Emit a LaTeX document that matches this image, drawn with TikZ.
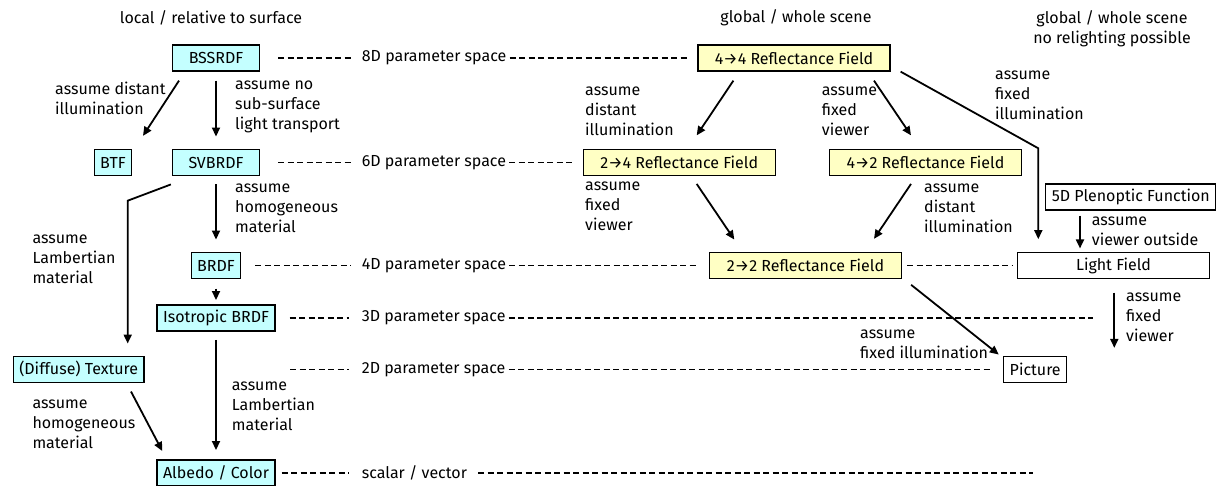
\documentclass[tikz,border=0pt]{standalone}
\usepackage{fontspec}
\setmainfont{Fira Sans}
\usetikzlibrary{arrows.meta}

\definecolor{boxcyan}{RGB}{196,255,255}
\definecolor{boxyellow}{RGB}{255,255,196}

\tikzset{
	modelbox/.style={draw, line width=1.3pt, minimum height=26pt, inner xsep=6pt, inner ysep=0pt},
	localbox/.style={modelbox, fill=boxcyan},
	globalbox/.style={modelbox, fill=boxyellow, minimum width=192pt},
	plainbox/.style={modelbox, fill=white},
	note/.style={anchor=west, inner sep=0pt, align=left},
	dimlabel/.style={anchor=west, inner sep=0pt},
	dimline/.style={dash pattern=on 6pt off 3.5pt, line width=1.3pt},
	arr/.style={-{Triangle[length=9pt,width=8pt]}, line width=1.8pt}
}

\begin{document}
\begin{tikzpicture}[x=1pt, y=-1pt, font=\fontsize{16}{20}\selectfont]
		\useasboundingbox (0,0) rectangle (1219,486);
		
		% headings
		\node(hlocal) at (211,18){local / relative to surface};
		\node(hglobal) at (796,18){global / whole scene};
		\node[align=center](hscene) at (1112,28.5){global / whole scene\\no relighting possible};
		
		% local models
		\node[localbox, minimum width=87pt](bssrdf) at (216,58){BSSRDF};
		\node[localbox](btf) at (113,162.5){BTF};
		\node[localbox, minimum width=87pt](svbrdf) at (216,162.5){SVBRDF};
		\node[localbox](brdf) at (216,265.5){BRDF};
		\node[localbox](iso) at (216,318){Isotropic BRDF};
		\node[localbox](tex) at (78.7,369.2){(Diffuse) Texture};
		\node[localbox](albedo) at (216,473){Albedo / Color};
		
		% global models
		\node[globalbox](r44) at (794,58){4→4 Reflectance Field};
		\node[globalbox](r24) at (679.2,162.5){2→4 Reflectance Field};
		\node[globalbox](r42) at (925.5,162.5){4→2 Reflectance Field};
		\node[globalbox](r22) at (805.5,265.5){2→2 Reflectance Field};
		\node[plainbox](plen) at (1130.8,197){5D Plenoptic Function};
		\node[plainbox, minimum width=192pt](lf) at (1113.5,265.5){Light Field};
		\node[plainbox](pic) at (1035.2,369.2){Picture};
		
		% parameter space
		\node[dimlabel](p8) at (361.7,58){8D parameter space};
		\node[dimlabel](p6) at (361.7,162.5){6D parameter space};
		\node[dimlabel](p4) at (361.7,265.5){4D parameter space};
		\node[dimlabel](p3) at (361.7,318){3D parameter space};
		\node[dimlabel](p2) at (361.7,369.2){2D parameter space};
		\node[dimlabel](ps) at (361.7,473){scalar / vector};
		\coordinate(p3end) at (1093.3,318);
		\coordinate(p2start) at (290,369.2);
		\coordinate(psend) at (1033.3,473);
		
		\draw[dimline, shorten <=18pt, shorten >=11pt] (bssrdf.east) -- (p8.west);
		\draw[dimline, shorten <=3pt, shorten >=9pt] (p8.east) -- (r44.west);
		\draw[dimline, shorten <=18pt, shorten >=11pt] (svbrdf.east) -- (p6.west);
		\draw[dimline, shorten <=3pt, shorten >=10pt] (p6.east) -- (r24.west);
		\draw[dimline, shorten <=14pt, shorten >=11pt] (brdf.east) -- (p4.west);
		\draw[dimline, shorten <=3pt, shorten >=13pt] (p4.east) -- (r22.west);
		\draw[dimline, shorten <=5pt, shorten >=4pt] (r22.east) -- (lf.west);
		\draw[dimline, shorten <=14pt, shorten >=13pt] (iso.east) -- (p3.west);
		\draw[dimline, shorten <=3pt] (p3.east) -- (p3end);
		\draw[dimline, shorten >=13pt] (p2start) -- (p2.west);
		\draw[dimline, shorten <=3pt, shorten >=12.6pt] (p2.east) -- (pic.west);
		\draw[dimline, shorten <=6pt, shorten >=13pt] (albedo.east) -- (ps.west);
		\draw[dimline, shorten <=11pt] (ps.east) -- (psend);
		
		% local arrows
		\draw[arr] ([xshift=-37pt,yshift=-9pt]bssrdf.south) -- ([xshift=30pt,yshift=13pt]btf.north);
		\node[note](n1) at (55,98){assume distant\\illumination};
		\draw[arr, shorten <=9pt, shorten >=12.3pt] (bssrdf) -- (svbrdf);
		\node[note](n2) at (235,106.5){assume no\\sub-surface\\light transport};
		
		\coordinate(texbend) at (127.7,200.7);
		\draw[arr, shorten >=12pt] ([xshift=-1pt,yshift=-8.3pt]svbrdf.south west) -- (texbend) -- (texbend |- tex.north);
		\node[note](n3) at (32.3,259){assume\\Lambertian\\material};
		\draw[arr, shorten <=8.3pt, shorten >=12.3pt] (svbrdf) -- (brdf);
		\node[note](n4) at (235,208.7){assume\\homogeneous\\material};
		\draw[arr, shorten <=9.4pt, shorten >=4.3pt] (brdf) -- (iso);
		
		\draw[arr] ([xshift=52.3pt,yshift=-8.7pt]tex.south) -- ([xshift=-53.7pt,yshift=8.3pt]albedo.north);
		\node[note](n5) at (32.3,424.5){assume\\homogeneous\\material};
		\draw[arr, shorten <=8.3pt, shorten >=9.3pt] (iso) -- (albedo);
		\node[note](n6) at (231.7,406.7){assume\\Lambertian\\material};
		
		% global arrows
		\draw[arr] ([xshift=-60.6pt,yshift=-9pt]r44.south) -- ([xshift=17.5pt,yshift=13.5pt]r24.north);
		\node[note](n7) at (585,111.7){assume\\distant\\illumination};
		\draw[arr] ([xshift=80pt,yshift=-9pt]r44.south) -- ([xshift=-14.5pt,yshift=13.5pt]r42.north);
		\node[note](n8) at (821.7,111.7){assume\\fixed\\viewer};
		
		\coordinate(lfbend) at (1038.3,148.3);
		\draw[arr, shorten >=12.7pt] ([xshift=10pt]r44.south east) -- (lfbend) -- (lfbend |- lf.north);
		\node[note](n9) at (995,94.8){assume\\fixed\\illumination};
		
		\draw[arr] ([xshift=17.5pt,yshift=-7.8pt]r24.south) -- ([xshift=-71.2pt,yshift=12.3pt]r22.north);
		\node[note](n10) at (585,206.5){assume\\fixed\\viewer};
		\draw[arr] ([xshift=-14.5pt,yshift=-7.8pt]r42.south) -- ([xshift=68.5pt,yshift=13pt]r22.north);
		\node[note](n11) at (924,208){assume\\distant\\illumination};
		
		\draw[arr] ([xshift=-50.8pt,yshift=-5pt]plen.south) -- ([xshift=-33.5pt,yshift=3.4pt]lf.north);
		\node[note](n12) at (1091.7,231){assume\\viewer outside};
		\draw[arr] ([xshift=0.8pt,yshift=-13.4pt]lf.south) -- ([xshift=79.1pt,yshift=7.7pt]pic.north);
		\node[note](n13) at (1126,317){assume\\fixed\\viewer};
		\draw[arr] ([xshift=9pt,yshift=-5.7pt]r22.south east) -- ([xshift=-4.3pt,yshift=1pt]pic.north west);
		\node[note](n14) at (860,343.8){assume\\fixed illumination};
	\end{tikzpicture}
\end{document}
